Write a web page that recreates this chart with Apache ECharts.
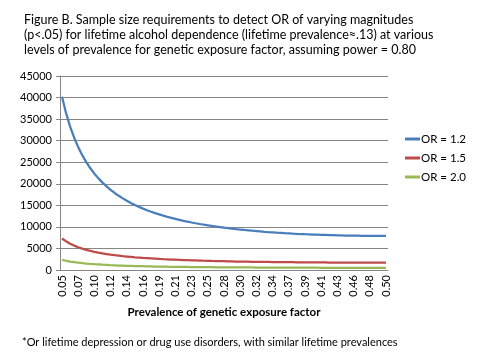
<!DOCTYPE html>
<html><head><meta charset="utf-8">
<script src="https://cdn.jsdelivr.net/npm/echarts@6/dist/echarts.min.js"></script>
<style>html,body{margin:0;padding:0;background:#fff}#c{width:479px;height:360px}</style>
</head><body><div id="c"></div>
<script>
var categories = ["0.05","0.06","0.06","0.07","0.07","0.08","0.08","0.09","0.10","0.10",
"0.11","0.11","0.12","0.12","0.13","0.13","0.14","0.15","0.15","0.16",
"0.16","0.17","0.17","0.18","0.19","0.19","0.20","0.20","0.21","0.21",
"0.22","0.22","0.23","0.24","0.24","0.25","0.25","0.26","0.26","0.27",
"0.28","0.28","0.29","0.29","0.30","0.30","0.31","0.31","0.32","0.33",
"0.33","0.34","0.34","0.35","0.35","0.36","0.37","0.37","0.38","0.38",
"0.39","0.39","0.40","0.40","0.41","0.42","0.42","0.43","0.43","0.44",
"0.44","0.45","0.46","0.46","0.47","0.47","0.48","0.48","0.49","0.49","0.50"];

var or12 = [40200,36380,33260,30680,28490,26620,25010,23600,22350,21250,
20270,19390,18590,17870,17210,16610,16060,15550,15080,14640,
14240,13870,13520,13190,12890,12600,12330,12080,11840,11620,
11410,11210,11020,10840,10670,10510,10360,10210,10080,9950,
9820,9710,9600,9490,9390,9290,9200,9110,9030,8950,
8870,8800,8740,8670,8610,8550,8500,8440,8390,8350,
8300,8260,8220,8190,8150,8120,8090,8070,8040,8020,
8000,7980,7960,7950,7930,7920,7920,7910,7900,7900,7900];

var or15 = [7310,6650,6110,5660,5270,4950,4670,4420,4210,4020,
3840,3700,3560,3430,3320,3210,3120,3030,2940,2880,
2800,2740,2680,2620,2560,2510,2470,2430,2390,2350,
2310,2280,2240,2210,2180,2150,2130,2100,2080,2050,
2030,2010,1990,1970,1960,1940,1930,1910,1900,1890,
1870,1860,1850,1840,1830,1820,1810,1800,1790,1780,
1770,1760,1760,1750,1740,1740,1730,1730,1720,1720,
1720,1710,1710,1710,1710,1700,1700,1700,1700,1700,1700];

var or20 = [2360,2140,1960,1810,1690,1580,1490,1410,1340,1280,
1220,1170,1120,1080,1040,1010,980,950,920,900,
870,850,830,810,800,780,760,750,740,720,
710,700,690,680,670,660,650,640,630,630,
620,610,610,600,600,590,580,580,570,570,
570,560,560,550,550,550,540,540,540,540,
530,530,530,530,520,520,520,520,520,520,
520,510,510,510,510,510,510,510,510,510,510];

var seriesNames = ["OR = 1.2","OR = 1.5","OR = 2.0"];
var yTicks = {min:0, max:45000, interval:5000};

var titleText = "Figure B. Sample size requirements to detect OR of varying magnitudes\n(p<.05) for lifetime alcohol dependence (lifetime prevalence\u2248.13) at various\nlevels of prevalence for genetic exposure factor, assuming power = 0.80";
var footText = "*Or lifetime depression or drug use disorders, with similar lifetime prevalences";
var xName = "Prevalence of genetic exposure factor";

var FONT = "Lato";
var chart = echarts.init(document.getElementById('c'), null, {renderer:'canvas'});
function mk(name, data, color){
  return {name:name, type:'line', data:data, symbol:'none', smooth:false,
    lineStyle:{color:color, width:2.25}, itemStyle:{color:color}, animation:false};
}
chart.setOption({
  animation:false,
  textStyle:{fontFamily:FONT},
  title:[
    {text:titleText, left:19, top:8, textStyle:{fontFamily:FONT, fontSize:12.5, fontWeight:'normal', color:'#000', lineHeight:14.7}},
    {text:footText, left:17, top:332, textStyle:{fontFamily:FONT, fontSize:11, fontWeight:'normal', color:'#000'}}
  ],
  legend:{orient:'vertical', left:400, top:128, itemWidth:15, itemHeight:3, itemGap:7, icon:'rect',
    textStyle:{fontFamily:FONT, fontSize:11.5, color:'#000', padding:[0,0,0,-4]},
    data:seriesNames},
  grid:{left:60, right:91, top:76, bottom:90, containLabel:false},
  xAxis:{type:'category', data:categories, boundaryGap:true,
    name:xName, nameLocation:'middle', nameGap:36,
    nameTextStyle:{fontFamily:FONT, fontSize:11.5, fontWeight:'bold', color:'#000'},
    axisLine:{lineStyle:{color:'#868686', width:1}},
    axisTick:{interval:0, length:4, lineStyle:{color:'#868686'}},
    axisLabel:{interval:3, rotate:90, fontFamily:FONT, fontSize:11, color:'#000', margin:5}},
  yAxis:{type:'value', min:yTicks.min, max:yTicks.max, interval:yTicks.interval,
    axisLine:{show:true, lineStyle:{color:'#868686'}},
    axisTick:{show:true, length:4, lineStyle:{color:'#868686'}},
    splitLine:{lineStyle:{color:'#868686', width:1}},
    axisLabel:{fontFamily:FONT, fontSize:11, color:'#000', margin:8, formatter:function(v){return String(v);}}},
  series:[mk(seriesNames[0], or12, '#4A7EBB'), mk(seriesNames[1], or15, '#BE4B48'), mk(seriesNames[2], or20, '#98B954')]
});
</script></body></html>
